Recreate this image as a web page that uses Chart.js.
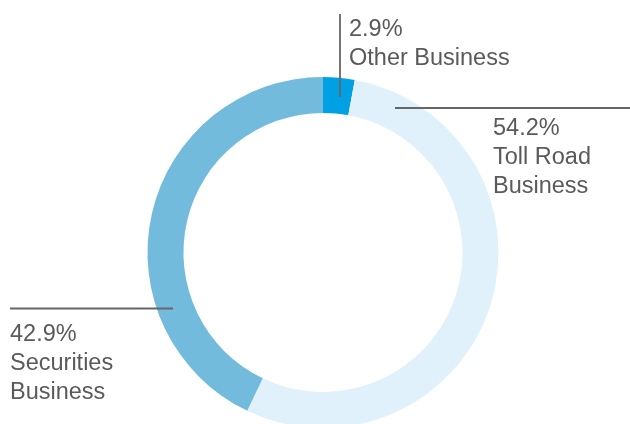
<!DOCTYPE html>
<html>
<head>
<meta charset="utf-8">
<script src="https://cdn.jsdelivr.net/npm/chart.js@4.4.1/dist/chart.umd.min.js"></script>
<style>
    html, body { margin: 0; padding: 0; background: #fff; overflow: hidden; }
    #wrap { width: 630px; height: 424px; overflow: hidden; position: relative; }
    canvas { display: block; }
</style>
</head>
<body>
<div id="wrap"><canvas id="segmentChart" width="630" height="432"></canvas></div>
<script>
// segment shares, clockwise from 12 o'clock
let categories = ['Other Business', 'Toll Road Business', 'Securities Business'];
let shareValues = [2.9, 54.2, 42.9];
let segmentColors = ['#00a1e4', '#e1f1fc', '#73bbdd'];

// label lines as printed (first line is the percentage)
let labelLines = [['Other Business'], ['Toll Road', 'Business'], ['Securities', 'Business']];

// callout layout: leader line from (x1,y1) to (x2,y2), text block starts at (tx,ty)
let callouts = [
    { x1: 340, y1: 14, x2: 340, y2: 97, tx: 349, ty: 36 },
    { x1: 395, y1: 108, x2: 630, y2: 108, tx: 493, ty: 135 },
    { x1: 10, y1: 308.5, x2: 173, y2: 308.5, tx: 10, ty: 341 }
];

const calloutPlugin = {
    id: 'callouts',
    afterDatasetsDraw(chart) {
        let ctx = chart.ctx;
        ctx.save();
        ctx.strokeStyle = '#666666';
        ctx.lineWidth = 1.8;
        ctx.fillStyle = '#5a5a5a';
        ctx.font = '23.5px "Liberation Sans", Arial, sans-serif';
        ctx.textBaseline = 'alphabetic';
        ctx.textAlign = 'left';
        callouts.forEach(function (c, i) {
            ctx.beginPath();
            ctx.moveTo(c.x1, c.y1);
            ctx.lineTo(c.x2, c.y2);
            ctx.stroke();
            let lines = [shareValues[i].toFixed(1) + '%'].concat(labelLines[i]);
            lines.forEach(function (t, k) {
                ctx.fillText(t, c.tx, c.ty + k * 28.8);
            });
        });
        ctx.restore();
    }
};

new Chart(document.getElementById('segmentChart'), {
    type: 'doughnut',
    data: {
        labels: categories,
        datasets: [{
            data: shareValues,
            backgroundColor: segmentColors,
            borderWidth: 0
        }]
    },
    options: {
        responsive: false,
        animation: false,
        cutout: '79.5%',
        rotation: 0,
        layout: {
            padding: { left: 147.5, right: 131.5, top: 77, bottom: 4 }
        },
        plugins: {
            legend: { display: false },
            tooltip: { enabled: false }
        }
    },
    plugins: [calloutPlugin]
});
</script>
</body>
</html>
